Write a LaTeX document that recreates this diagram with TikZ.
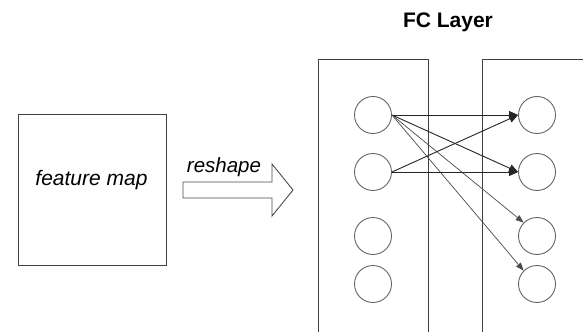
\documentclass[tikz,border=0pt]{standalone}
\usepackage{fontspec}
\setmainfont{Liberation Sans}
\usetikzlibrary{arrows.meta}
\begin{document}
\begin{tikzpicture}[x=1pt,y=-1pt,
  neuron/.style={circle,draw=black!60,line width=0.9pt,minimum size=37pt,inner sep=0pt},
  box/.style={draw=black!75,line width=1pt},
  conn/.style={draw=black!85,line width=0.9pt,-{Triangle[length=9pt,width=8pt]}},
  thinconn/.style={draw=black!70,line width=0.7pt,-{Triangle[length=8pt,width=6pt]}},
  lbl/.style={font=\itshape\fontsize{21}{24}\selectfont,inner sep=0pt,anchor=base}]
\useasboundingbox (0,0) rectangle (583,334);
\fill[white] (0,0) rectangle (583,334);
% feature map
\node[box,minimum width=148pt,minimum height=150pt,inner sep=0pt] (fm) at (92,190) {};
\node[lbl] (fmt) at (91.5,185) {feature map};
% reshape arrow
\draw[draw=black!70,line width=0.9pt,line join=miter]
  (183,182) -- (272,182) -- (272,164) -- (293,190) -- (272,216) -- (272,198) -- (183,198) -- cycle;
\node[lbl,font=\itshape\fontsize{20.5}{24}\selectfont] (rs) at (224,172) {reshape};
% FC layer boxes
\draw[box] (318,332) -- (318,60) -- (428,60) -- (428,332);
\draw[box] (482,332) -- (482,60) -- (590,60);
\node[font=\bfseries\fontsize{21}{24}\selectfont,inner sep=0pt,anchor=base] (fc) at (448,28) {FC Layer};
% neurons
\node[neuron] (l1) at (373,115) {};
\node[neuron] (l2) at (373,172) {};
\node[neuron] (l3) at (373,236) {};
\node[neuron] (l4) at (373,284) {};
\node[neuron] (r1) at (537,115) {};
\node[neuron] (r2) at (537,172) {};
\node[neuron] (r3) at (537,236) {};
\node[neuron] (r4) at (537,284) {};
\coordinate (s1) at (l1.east);
\coordinate (s2) at (l2.east);
\draw[conn] (s1) -- (r1.west);
\draw[conn] (s1) -- (r2.west);
\draw[thinconn] (s1) -- (r3.north west);
\draw[thinconn] (s1) -- (r4.north west);
\draw[conn] (s2) -- (r1.west);
\draw[conn] (s2) -- (r2.west);
\end{tikzpicture}
\end{document}
